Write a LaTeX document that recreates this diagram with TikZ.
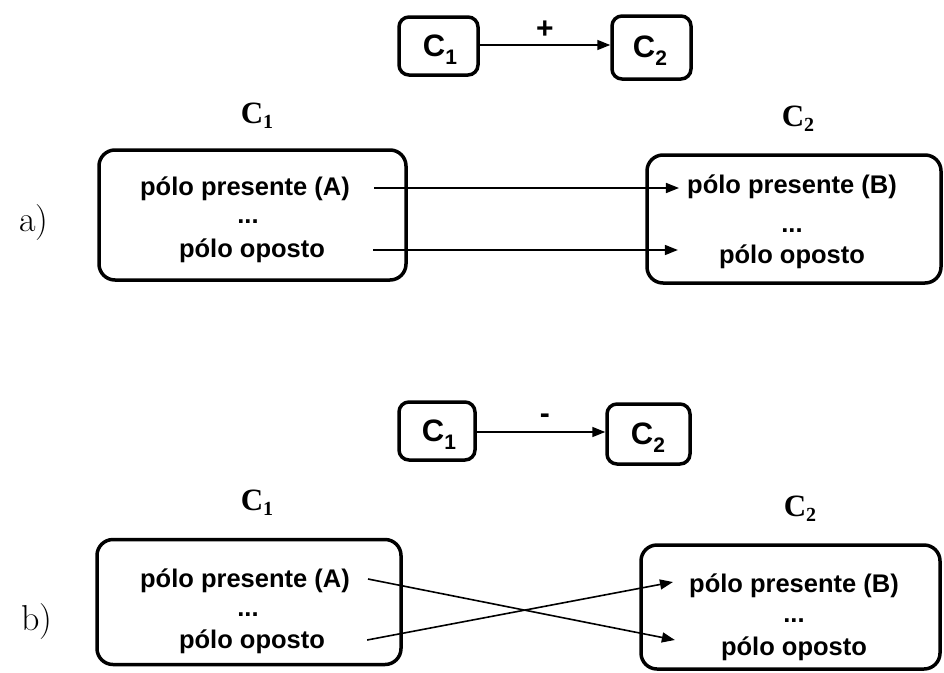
\documentclass[tikz,border=0pt]{standalone}
\usepackage{fontspec}
\usetikzlibrary{arrows.meta}
\newfontfamily\boxsans{Liberation Sans}
\newfontfamily\labserif{Liberation Serif}
\newcommand\polefont{\boxsans\bfseries\fontsize{25.5}{25.5}\selectfont}
\newcommand\cfont{\boxsans\bfseries\fontsize{31}{31}\selectfont}
\newcommand\serifC{\labserif\bfseries\fontsize{31}{31}\selectfont}
\newcommand\subsans[1]{\raisebox{-8pt}{\fontsize{21}{21}\selectfont #1}}
\newcommand\subserif[1]{\raisebox{-5pt}{\fontsize{20}{20}\selectfont #1}}
\begin{document}
\begin{tikzpicture}[x=1pt,y=-1pt,
  bigbox/.style={draw,line width=3.5pt,rounded corners=16pt,inner sep=0pt},
  smallbox/.style={draw,line width=3.5pt,rounded corners=10pt,inner sep=0pt},
  poletext/.style={font=\polefont,inner sep=0pt,anchor=base},
  concept/.style={font=\cfont,inner sep=0pt,anchor=base},
  setlabel/.style={font=\serifC,inner sep=0pt,anchor=base},
  partlabel/.style={font=\fontsize{36}{36}\selectfont,inner sep=0pt,anchor=base},
  sign/.style={font=\boxsans\bfseries\fontsize{30}{30}\selectfont,inner sep=0pt},
  arr/.style={line width=1.6pt,-{Triangle[length=13pt,width=10pt]}}]
\useasboundingbox (0,0) rectangle (944,672);

% ---------- a) positive link ----------
\node[smallbox,minimum width=79pt,minimum height=58pt] (ta1) at (438.5,46) {};
\node[smallbox,minimum width=79pt,minimum height=63pt] (ta2) at (651.5,47.5) {};
\node[concept] (ta1t) at (440,56) {C\subsans{1}};
\node[concept] (ta2t) at (650,57) {C\subsans{2}};
\draw[arr] (ta1.east |- 0,45) -- (ta2.west |- 0,45) node[sign,midway,above=6pt] (plus) {+};

\node[setlabel] (la1) at (257,123) {C\subserif{1}};
\node[setlabel] (la2) at (798,126) {C\subserif{2}};
\node[partlabel] (pa) at (34,231) {a)};

\node[bigbox,minimum width=307pt,minimum height=130pt] (ba1) at (252.5,215) {};
\node[bigbox,minimum width=294pt,minimum height=128pt] (ba2) at (794,219) {};

\node[poletext] (aA)  at (245,195) {pólo presente (A)};
\node[poletext] (aD1) at (248,223) {...};
\node[poletext] (aO)  at (252,257) {pólo oposto};
\node[poletext] (aB)  at (792,193) {pólo presente (B)};
\node[poletext] (aD2) at (792,232) {...};
\node[poletext] (aO2) at (792,263) {pólo oposto};

\draw[arr] ([xshift=24pt,yshift=7pt]aA.base east) -- ([xshift=-8pt,yshift=5pt]aB.base west);
\draw[arr] ([xshift=48pt,yshift=7pt]aO.base east) -- ([xshift=-41pt,yshift=13pt]aO2.base west);

% ---------- b) negative link ----------
\node[smallbox,minimum width=76pt,minimum height=58pt] (tb1) at (437,431) {};
\node[smallbox,minimum width=83pt,minimum height=60pt] (tb2) at (648.5,434) {};
\node[concept] (tb1t) at (439,441) {C\subsans{1}};
\node[concept] (tb2t) at (648,444) {C\subsans{2}};
\draw[arr] (tb1.east |- 0,432) -- (tb2.west |- 0,432) node[sign,pos=0.53,above=8pt] (minus) {-};

\node[setlabel] (lb1) at (257,510) {C\subserif{1}};
\node[setlabel] (lb2) at (800,516) {C\subserif{2}};
\node[partlabel] (pb) at (37,630) {b)};

\node[bigbox,minimum width=304pt,minimum height=125pt] (bb1) at (249,602) {};
\node[bigbox,minimum width=299pt,minimum height=124pt] (bb2) at (790.5,607) {};

\node[poletext] (bA)  at (245,587) {pólo presente (A)};
\node[poletext] (bD1) at (248,616) {...};
\node[poletext] (bO)  at (252,648) {pólo oposto};
\node[poletext] (bB)  at (794,592) {pólo presente (B)};
\node[poletext] (bD2) at (794,622) {...};
\node[poletext] (bO2) at (794,655) {pólo oposto};

\draw[arr] ([xshift=18pt,yshift=8pt]bA.base east) -- ([xshift=-46pt,yshift=15pt]bO2.base west);
\draw[arr] ([xshift=42pt,yshift=8pt]bO.base east) -- ([xshift=-16pt,yshift=10pt]bB.base west);
\end{tikzpicture}
\end{document}
